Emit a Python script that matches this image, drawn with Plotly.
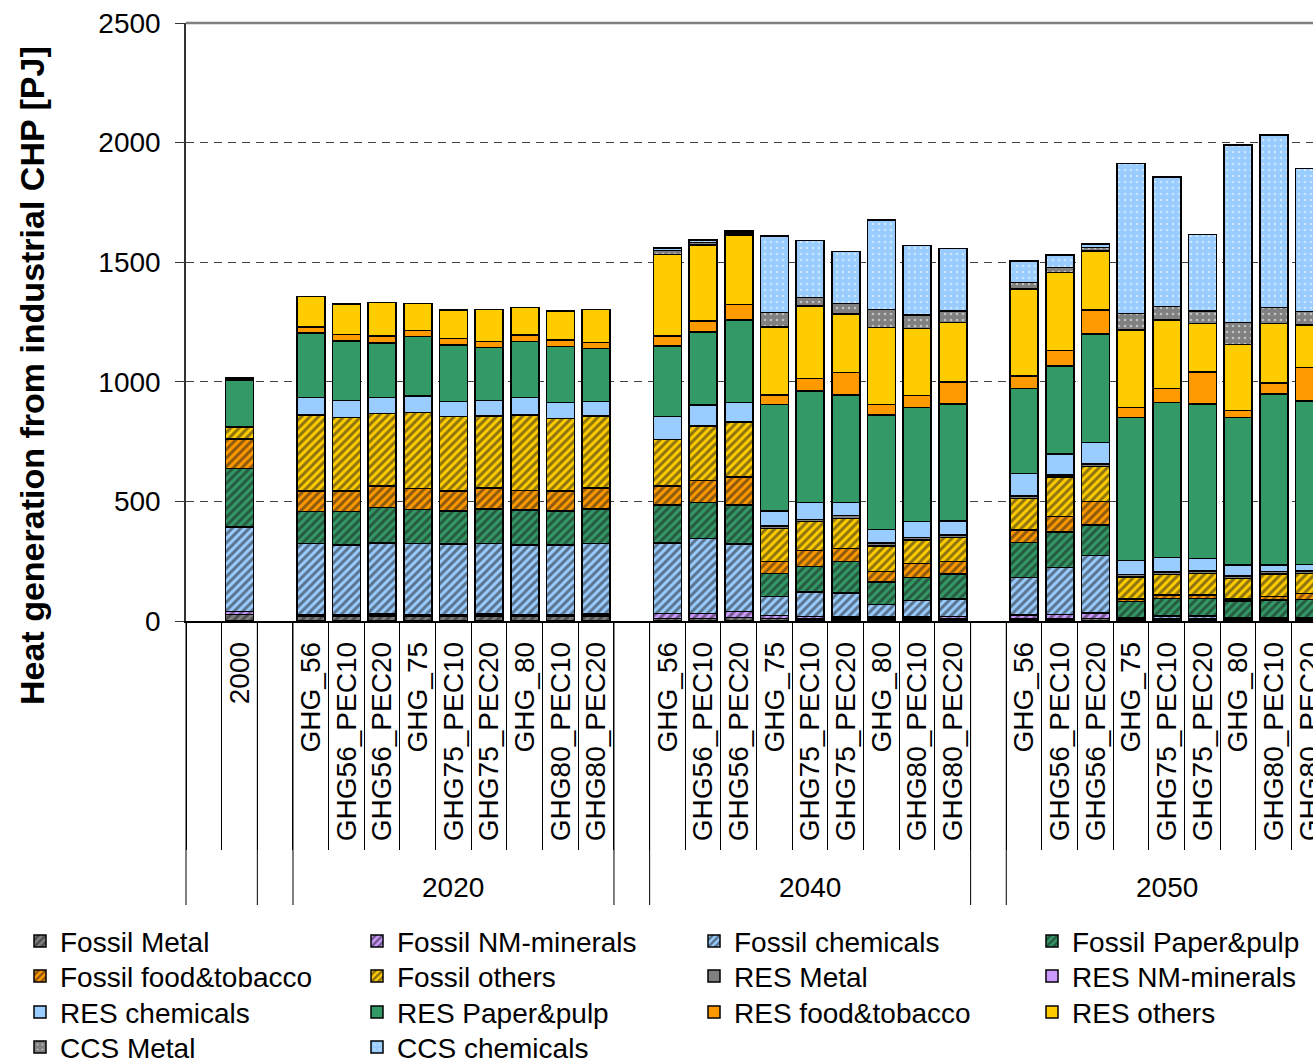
import plotly.graph_objects as go

# Scenario names on the x axis
base_year = "2000"
years = ["2020", "2040", "2050"]
scenarios = ["GHG_56", "GHG56_PEC10", "GHG56_PEC20", "GHG_75", "GHG75_PEC10",
             "GHG75_PEC20", "GHG_80", "GHG80_PEC10", "GHG80_PEC20"]

# Values in PJ, order: 2000, 2020 (9 scenarios), 2040 (9), 2050 (9)
fossil_metal = [28, 20, 20, 20, 20, 20, 20, 20, 20, 20,
                11, 10, 14, 10, 8, 8, 8, 8, 8,
                8, 8, 10, 5, 6, 4, 5, 5, 5]
fossil_nm = [11, 8, 8, 10, 8, 8, 10, 6, 8, 10,
             20, 22, 25, 12, 10, 8, 8, 8, 10,
             18, 20, 24, 4, 4, 4, 3, 3, 3]
fossil_chem = [355, 297, 290, 297, 297, 293, 295, 292, 290, 295,
               296, 313, 283, 80, 104, 102, 54, 69, 74,
               155, 196, 239, 6, 10, 12, 4, 5, 5]
fossil_paper = [244, 132, 139, 148, 142, 139, 143, 146, 142, 143,
                158, 151, 163, 97, 105, 130, 94, 96, 104,
                148, 149, 128, 66, 75, 75, 72, 75, 77]
fossil_food = [123, 86, 86, 89, 86, 83, 87, 81, 83, 87,
               79, 91, 118, 49, 67, 56, 42, 60, 52,
               51, 63, 98, 11, 14, 14, 8, 14, 26]
fossil_others = [51, 318, 308, 304, 318, 311, 302, 316, 304, 302,
                 195, 228, 230, 139, 121, 125, 108, 98, 102,
                 133, 167, 146, 93, 86, 90, 86, 94, 83]
res_metal = [0, 0, 0, 0, 0, 0, 0, 0, 0, 0,
             0, 0, 0, 10, 10, 12, 12, 10, 10,
             10, 8, 12, 10, 10, 10, 10, 10, 10]
res_nm = [0] * 28
res_chem = [0, 74, 70, 66, 69, 63, 64, 74, 66, 60,
            95, 88, 80, 63, 71, 55, 57, 66, 59,
            94, 87, 90, 57, 60, 53, 46, 28, 28]
res_paper = [195, 270, 249, 229, 249, 237, 222, 233, 234, 223,
             296, 306, 345, 446, 465, 449, 478, 478, 488,
             356, 369, 453, 598, 648, 645, 616, 714, 683]
res_food = [4, 25, 28, 28, 25, 28, 25, 27, 28, 25,
            41, 45, 66, 39, 53, 93, 45, 49, 93,
            51, 63, 100, 42, 60, 135, 29, 46, 139]
res_others = [4, 126, 127, 140, 114, 118, 135, 115, 121, 138,
              341, 318, 289, 285, 303, 245, 320, 281, 247,
              364, 327, 247, 324, 285, 202, 278, 250, 178]
ccs_metal = [0, 0, 0, 0, 0, 0, 0, 0, 0, 0,
             16, 11, 10, 60, 36, 45, 77, 56, 49,
             28, 20, 15, 70, 56, 53, 90, 67, 56]
ccs_chem = [0, 0, 0, 0, 0, 0, 0, 0, 0, 0,
            12, 10, 8, 319, 237, 216, 373, 290, 262,
            90, 53, 14, 627, 543, 319, 743, 721, 599]

series = [
    ("Fossil Metal", fossil_metal, "#808080", "/"),
    ("Fossil NM-minerals", fossil_nm, "#CC99FF", "/"),
    ("Fossil chemicals", fossil_chem, "#99CCFF", "/"),
    ("Fossil Paper&pulp", fossil_paper, "#339966", "/"),
    ("Fossil food&tobacco", fossil_food, "#FF9900", "/"),
    ("Fossil others", fossil_others, "#FFCC00", "/"),
    ("RES Metal", res_metal, "#808080", ""),
    ("RES NM-minerals", res_nm, "#CC99FF", ""),
    ("RES chemicals", res_chem, "#99CCFF", ""),
    ("RES Paper&pulp", res_paper, "#339966", ""),
    ("RES food&tobacco", res_food, "#FF9900", ""),
    ("RES others", res_others, "#FFCC00", ""),
    ("CCS Metal", ccs_metal, "#808080", "."),
    ("CCS chemicals", ccs_chem, "#99CCFF", "."),
]

FONT = "Liberation Sans, Arial, sans-serif"
W, H = 1313, 1085          # figure runs a bit past the window bottom, like the original
L, T, PW, PH = 186, 23, 1127, 598   # plot area in px
Y0 = T + PH                 # pixel row of the x axis
FS = 28                     # main text size


def py(pix):
    # pixel row -> paper y
    return (Y0 - pix) / PH


# Build the category axis: a blank slot before 2000 and between groups.
# Zero-width spaces keep repeated scenario names unique per year.
zw = "\u200b"
cats = [zw, base_year, zw * 2]
bar_cats = [base_year]
group_sizes = [2, 1]
mid_cats = []
for k, yr in enumerate(years):
    group = [s + zw * k for s in scenarios]
    cats += group
    bar_cats += group
    group_sizes.append(len(group))
    mid_cats.append(group[len(group) // 2])
    if k < len(years) - 1:
        cats.append(zw * (k + 3))
        group_sizes.append(1)

# one small legend per entry so the 4-column grid sits like the original
legend_ids = ["legend"] + ["legend%d" % (i + 1) for i in range(1, len(series))]

fig = go.Figure()
for i, (name, vals, col, shape) in enumerate(series):
    if shape == "/":
        pattern = dict(shape="/", fillmode="overlay", fgcolor="#1a1a1a", size=6, solidity=0.5)
    elif shape == ".":
        pattern = dict(shape=".", fillmode="overlay", fgcolor="#FFFFFF", size=6, solidity=0.15)
    else:
        pattern = None
    fig.add_trace(go.Bar(
        x=bar_cats, y=vals, name=name, showlegend=True,
        marker=dict(color=col, line=dict(color="#000000", width=1.5), pattern=pattern),
        legend=legend_ids[i],
    ))

# group dividers below the axis (down to y=905 px)
edges = []
acc = 0
for n in group_sizes[:-1]:
    acc += n
    edges.append(acc - 0.5)
shapes = [dict(type="line", xref="paper", yref="paper", x0=0, x1=0, y0=0, y1=py(905),
               line=dict(color="#000000", width=1))]
for e in edges:
    shapes.append(dict(type="line", xref="x", yref="paper", x0=e, x1=e, y0=0, y1=py(905),
                       line=dict(color="#000000", width=1)))
# top border of the plot area
shapes.append(dict(type="line", xref="paper", yref="paper", x0=0, x1=1, y0=1, y1=1,
                   line=dict(color="#808080", width=2.5)))

annotations = [dict(x=c, y=py(887), xref="x", yref="paper", text=yr,
                    showarrow=False, yanchor="middle",
                    font=dict(size=FS, color="#000000", family=FONT))
               for c, yr in zip(mid_cats, years)]
# y axis title
annotations.append(dict(
    x=(32 - L) / PW, y=py(376), xref="paper", yref="paper",
    text="<b>Heat generation from industrial CHP [PJ]</b>", textangle=-90,
    showarrow=False, xanchor="center", yanchor="middle",
    font=dict(size=34, color="#000000", family=FONT),
))

layout_legends = {}
col_x = [20, 357, 694, 1032]
row_y = [941, 976, 1012, 1047]
item_h = FS * 1.3 + 3
for i, lid in enumerate(legend_ids):
    layout_legends[lid] = dict(
        x=(col_x[i % 4] - L) / PW, y=py(row_y[i // 4] - item_h / 2 - 5),
        xanchor="left", yanchor="top", orientation="v", visible=True,
        font=dict(size=FS, color="#000000", family=FONT), bgcolor="rgba(0,0,0,0)",
    )

fig.update_layout(
    width=W, height=H, showlegend=True,
    margin=dict(l=L, r=W - L - PW, t=T, b=H - Y0, autoexpand=False),
    barmode="stack", bargap=0.215,
    plot_bgcolor="white", paper_bgcolor="white",
    font=dict(family=FONT, color="#000000"),
    shapes=shapes, annotations=annotations,
    **layout_legends,
)

fig.update_xaxes(
    type="category", categoryorder="array", categoryarray=cats,
    range=[-0.5, 31.1], tickmode="linear", tick0=0, dtick=1,
    tickson="boundaries", ticks="outside", ticklen=227, tickwidth=1, tickcolor="#000000",
    tickangle=-90, ticklabelstandoff=8, tickfont=dict(size=FS, family=FONT),
    showline=True, linecolor="#000000", linewidth=1.5, showgrid=False, zeroline=False,
    automargin=False,
)
fig.update_yaxes(
    range=[0, 2500], tick0=0, dtick=500, ticks="outside", ticklen=9, tickcolor="#333333",
    tickfont=dict(size=FS, family=FONT), ticklabelstandoff=9,
    showline=True, linecolor="#333333", linewidth=1.5,
    showgrid=True, gridcolor="#444444", gridwidth=1, griddash="8px,6px", zeroline=False,
    automargin=False,
)

fig.write_html("out.html", config={"displayModeBar": False},
               post_script="document.body.style.margin = '0px';")
